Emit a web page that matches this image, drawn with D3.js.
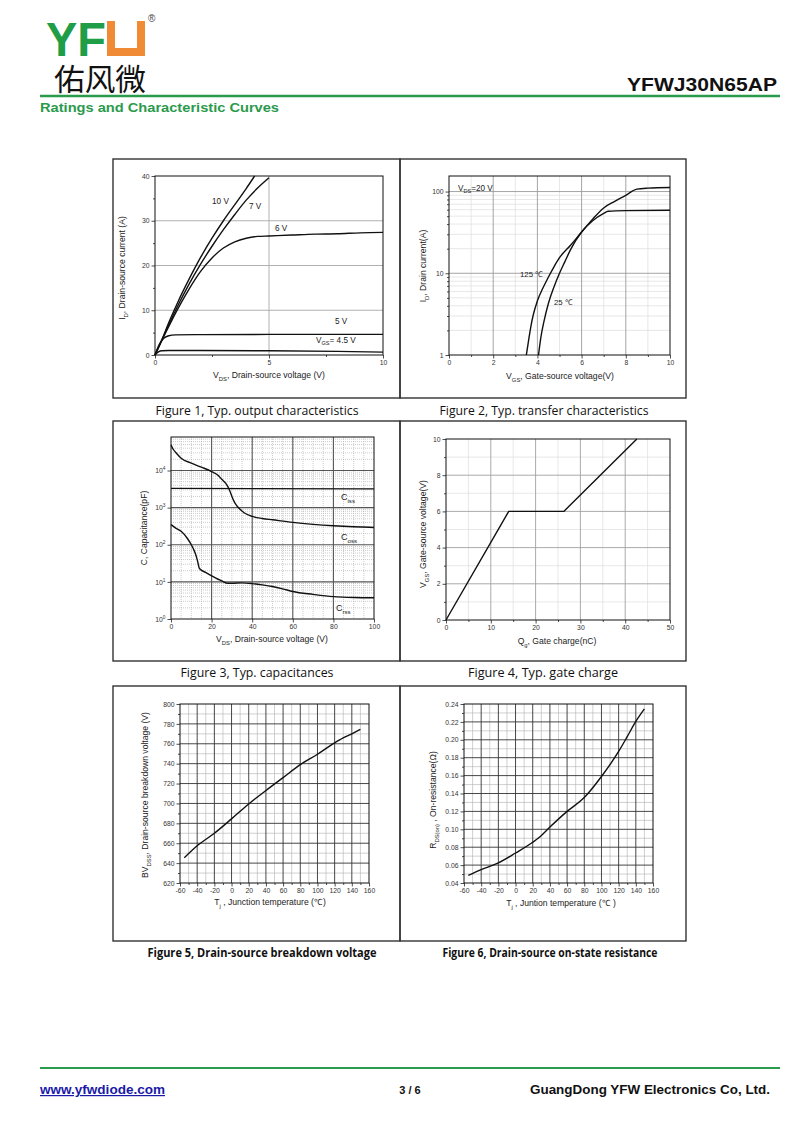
<!DOCTYPE html>
<html><head><meta charset="utf-8">
<script src="https://cdn.jsdelivr.net/npm/d3@7"></script>
<style>body{margin:0;background:#fff}svg{display:block}</style>
</head><body>
<svg id="page" width="800" height="1130"></svg>
<script>
// ---------- DATA ----------
// Figure 1: output characteristics  [V_DS (V), I_D (A)]
const fig1Vgs10 = [[0,0],[0.3,3.4],[0.6,7.2],[1,11.8],[1.5,17],[2,21.8],[2.5,26.1],[3,30],[3.5,33.6],[4,37.2],[4.37,40]];
const fig1Vgs7  = [[0,0],[0.5,5.6],[1,11],[1.5,15.9],[2,20.3],[2.5,24.3],[3,28],[3.5,31.4],[4,34.6],[4.5,37.3],[5,39.6]];
const fig1Vgs6  = [[0,0],[0.5,5.3],[1,10.3],[1.5,14.8],[2,18.7],[2.5,21.7],[3,23.9],[3.5,25.3],[4,26.1],[4.5,26.5],[5,26.6],[6,26.8],[7,27],[8,27.1],[9,27.3],[10,27.4]];
const fig1Vgs5  = [[0,0],[0.2,2.5],[0.4,3.8],[0.6,4.3],[0.9,4.5],[2,4.55],[5,4.6],[10,4.6]];
const fig1Vgs45 = [[0,0],[0.15,0.7],[0.3,0.95],[0.6,1.0],[2,1.0],[5,0.95],[8,0.8],[10,0.65]];
const fig1XTicks = [0,5,10];
const fig1YTicks = [0,10,20,30,40];

// Figure 2: transfer characteristics [V_GS (V), I_D (A)]
const fig2T125 = [[3.5,1],[3.6,1.5],[3.7,2.2],[3.8,3],[4,4.6],[4.25,6.6],[4.5,9],[4.75,12],[5,15.5],[5.5,22],[6,32],[6.5,46],[7,63],[7.5,76],[8,90],[8.5,107],[9,110],[10,112]];
const fig2T25  = [[4.05,1],[4.15,1.6],[4.3,2.6],[4.5,4.3],[4.75,6.8],[5,10],[5.25,14],[5.5,19.5],[6,32],[6.5,44],[7,54],[7.2,57.5],[8,58.5],[10,59]];
const fig2XTicks = [0,2,4,6,8,10];
const fig2YTicks = [1,10,100];

// Figure 3: capacitances [V_DS (V), C (pF)]
const fig3Ciss = [[0,3300],[100,3200]];
const fig3Coss = [[0,49000],[1,38000],[3,28000],[5,21500],[10,15800],[15,12300],[20,9400],[23,7600],[25,5800],[27,4500],[28,3700],[29,2800],[30,2000],[31,1500],[32,1200],[34,900],[36,730],[40,580],[45,510],[50,470],[60,400],[70,355],[80,325],[90,305],[100,293]];
const fig3Crss = [[0,350],[2,290],[5,230],[8,150],[10,100],[11,78],[12,58],[13,38],[14,23],[17,18],[20,14.6],[25,10.6],[28,9.2],[30,9.2],[35,9.4],[40,9.0],[45,8.3],[50,7.5],[55,6.5],[60,5.5],[70,4.6],[80,4.0],[90,3.8],[100,3.75]];
const fig3XTicks = [0,20,40,60,80,100];
const fig3YTicks = [1,10,100,1000,10000];

// Figure 4: gate charge [Q_g (nC), V_GS (V)]
const fig4Gate = [[0,0],[14,6],[26.3,6],[42.6,10]];
const fig4XTicks = [0,10,20,30,40,50];
const fig4YTicks = [0,2,4,6,8,10];

// Figure 5: breakdown voltage [T_j (°C), BV_DSS (V)]
const fig5BV = [[-55,645.5],[-40,657.5],[-20,670],[0,684.5],[20,699.5],[40,713],[60,726],[80,739],[100,749.5],[120,761],[130,766],[140,770],[150,774.5]];
const fig5XTicks = [-60,-40,-20,0,20,40,60,80,100,120,140,160];
const fig5YTicks = [620,640,660,680,700,720,740,760,780,800];

// Figure 6: on-resistance [T_j (°C), R_DS(on) (Ω)]
const fig6Rds = [[-55,0.0485],[-40,0.055],[-20,0.0625],[0,0.0735],[20,0.0855],[27,0.0905],[40,0.1025],[60,0.12],[80,0.1355],[100,0.159],[120,0.187],[130,0.2035],[140,0.2205],[150,0.2345]];
const fig6XTicks = [-60,-40,-20,0,20,40,60,80,100,120,140,160];
const fig6YTicks = [0.04,0.06,0.08,0.10,0.12,0.14,0.16,0.18,0.20,0.22,0.24];

const captions = ["Figure 1, Typ. output characteristics","Figure 2, Typ. transfer characteristics","Figure 3, Typ. capacitances","Figure 4, Typ. gate charge","Figure 5, Drain-source breakdown voltage","Figure 6, Drain-source on-state resistance"];

// ---------- DRAWING ----------
const svg = d3.select('#page');
const SANS = "'Liberation Sans', Arial, sans-serif";
const GREEN = '#2a9a4c';

function rich(parent, x, y, parts, o) {
  const t = parent.append('text').attr('x', x).attr('y', y)
    .attr('font-family', o.family || SANS).attr('font-size', o.size)
    .attr('text-anchor', o.anchor || 'start').attr('fill', o.fill || '#222');
  if (o.rotate) t.attr('transform', `rotate(-90,${x},${y})`);
  let shifted = false;
  parts.forEach(p => {
    const sub = Array.isArray(p);
    const s = t.append('tspan').text(sub ? p[0] : p);
    if (sub) { s.attr('font-size', o.size * 0.68).attr('dy', o.size * 0.3); shifted = true; }
    else if (shifted) { s.attr('dy', -o.size * 0.3); shifted = false; }
  });
  return t;
}

function vlines(g, vals, x, top, bottom, st) {
  g.append('g').selectAll('line').data(vals).join('line')
    .attr('x1', d => x(d)).attr('x2', d => x(d)).attr('y1', top).attr('y2', bottom)
    .attr('stroke', st.c).attr('stroke-width', st.w).attr('stroke-dasharray', st.dash || null);
}
function hlines(g, vals, y, left, right, st) {
  g.append('g').selectAll('line').data(vals).join('line')
    .attr('y1', d => y(d)).attr('y2', d => y(d)).attr('x1', left).attr('x2', right)
    .attr('stroke', st.c).attr('stroke-width', st.w).attr('stroke-dasharray', st.dash || null);
}

function drawChart(c) {
  const g = svg.append('g');
  const x = d3.scaleLinear().domain(c.xDomain).range([c.left, c.right]);
  const y = (c.log ? d3.scaleLog() : d3.scaleLinear()).domain(c.yDomain).range([c.bottom, c.top]);
  if (c.xMinorGrid) vlines(g, c.xMinorGrid, x, c.top, c.bottom, c.minorStyle);
  if (c.yMinorGrid) hlines(g, c.yMinorGrid, y, c.left, c.right, c.minorStyle);
  if (c.xGrid) vlines(g, c.xGrid, x, c.top, c.bottom, c.majorStyle);
  if (c.yGrid) hlines(g, c.yGrid, y, c.left, c.right, c.majorStyle);

  g.append('g').attr('transform', `translate(0,${c.bottom})`)
    .call(d3.axisBottom(x).tickValues(c.xTicks).tickSize(3.5).tickPadding(2).tickFormat(c.xFmt || (d => d)));
  const ya = g.append('g').attr('transform', `translate(${c.left},0)`)
    .call(d3.axisLeft(y).tickValues(c.yTicks).tickSize(3.5).tickPadding(2).tickFormat(c.yFmt || (d => d)));
  if (c.xMinorTicks) g.append('g').attr('transform', `translate(0,${c.bottom})`)
    .call(d3.axisBottom(x).tickValues(c.xMinorTicks).tickSize(2).tickFormat(''));
  if (c.yMinorTicks) g.append('g').attr('transform', `translate(${c.left},0)`)
    .call(d3.axisLeft(y).tickValues(c.yMinorTicks).tickSize(2).tickFormat(''));
  g.selectAll('.domain').remove();
  g.selectAll('.tick line').attr('stroke', '#222').attr('stroke-width', 0.8);
  g.selectAll('.tick text').attr('font-family', SANS).attr('font-size', 6.8).attr('fill', '#333');
  if (c.superY) {
    ya.selectAll('.tick text').each(function (d) {
      const t = d3.select(this);
      t.text('10');
      t.append('tspan').attr('dy', -3).attr('font-size', 4.8).text(Math.round(Math.log10(d)));
    });
  }

  g.append('rect').attr('x', c.left).attr('y', c.top).attr('width', c.right - c.left).attr('height', c.bottom - c.top)
    .attr('fill', 'none').attr('stroke', '#111').attr('stroke-width', 1);

  const line = d3.line().x(d => x(d[0])).y(d => y(d[1])).curve(c.linear ? d3.curveLinear : d3.curveMonotoneX);
  c.series.forEach(s => g.append('path').attr('d', line(s)).attr('fill', 'none')
    .attr('stroke', '#111').attr('stroke-width', 1.4).attr('stroke-linejoin', 'round'));

  rich(g, c.xLabel.x, c.xLabel.y, c.xLabel.parts, { size: 8.6, anchor: 'middle' });
  rich(g, c.yLabel.x, c.yLabel.y, c.yLabel.parts, { size: 8.6, anchor: 'middle', rotate: true });
  return { g, x, y };
}

// ---------- PAGE HEADER ----------
svg.append('text').attr('transform', 'translate(46,56) scale(1,1.1)').attr('font-family', SANS).attr('font-weight', 'bold')
  .attr('font-size', 44).attr('fill', '#1f9d47').attr('textLength', 60).attr('lengthAdjust', 'spacingAndGlyphs').text('YF');
svg.append('rect').attr('x', 107).attr('y', 21).attr('width', 38).attr('height', 35).attr('fill', '#f08a35');
svg.append('rect').attr('x', 115).attr('y', 21).attr('width', 22).attr('height', 27).attr('fill', '#fff');
svg.append('text').attr('x', 148).attr('y', 22).attr('font-family', SANS).attr('font-size', 10).attr('fill', '#444').text('®');
svg.append('text').attr('x', 54).attr('y', 90).attr('font-family', "'Noto Sans CJK SC', sans-serif")
  .attr('font-size', 30).attr('fill', '#111').attr('textLength', 92).attr('lengthAdjust', 'spacingAndGlyphs').text('佑风微');
svg.append('text').attr('x', 777).attr('y', 91).attr('text-anchor', 'end').attr('font-family', SANS).attr('font-weight', 'bold')
  .attr('font-size', 19).attr('fill', '#111').attr('textLength', 150).attr('lengthAdjust', 'spacingAndGlyphs').text('YFWJ30N65AP');
svg.append('line').attr('x1', 40).attr('x2', 780).attr('y1', 96).attr('y2', 96).attr('stroke', GREEN).attr('stroke-width', 2.5);
svg.append('text').attr('x', 40).attr('y', 112).attr('font-family', SANS).attr('font-weight', 'bold')
  .attr('font-size', 13).attr('fill', GREEN).attr('textLength', 239).attr('lengthAdjust', 'spacingAndGlyphs')
  .text('Ratings and Characteristic Curves');

// ---------- PANELS ----------
const panelRects = [[113,159,400,398],[400,159,686,398],[113,421,400,661],[400,421,686,661],[113,686,400,941],[400,686,686,941]];
panelRects.forEach(r => svg.append('rect').attr('x', r[0]).attr('y', r[1]).attr('width', r[2] - r[0]).attr('height', r[3] - r[1])
  .attr('fill', 'none').attr('stroke', '#333').attr('stroke-width', 1.4));
const capPos = [[257,415,203,false],[544,415,209,false],[257,677,153,false],[543,677,150,false],[262,957,229,true],[550,957,215,true]];
captions.forEach((t, i) => {
  const p = capPos[i];
  svg.append('text').attr('x', p[0]).attr('y', p[1]).attr('text-anchor', 'middle')
    .attr('font-family', "'Open Sans', 'Noto Sans', sans-serif").attr('font-size', 12.5)
    .attr('font-weight', p[3] ? 'bold' : 'normal').attr('fill', '#111')
    .attr('textLength', p[2]).attr('lengthAdjust', 'spacingAndGlyphs').text(t);
});

// ---------- FIGURE 1 ----------
const f1 = drawChart({
  left: 155, right: 383, top: 176, bottom: 355, xDomain: [0, 10], yDomain: [0, 40],
  xTicks: fig1XTicks, yTicks: fig1YTicks, xMinorTicks: [2.5, 7.5], yMinorTicks: [5, 15, 25, 35],
  xGrid: [5], yGrid: [10, 20, 30], majorStyle: { c: '#a8a8a8', w: 0.9 },
  series: [fig1Vgs10, fig1Vgs7, fig1Vgs6, fig1Vgs5, fig1Vgs45],
  xLabel: { x: 269, y: 378, parts: ['V', ['DS'], ', Drain-source voltage (V)'] },
  yLabel: { x: 125, y: 268, parts: ['I', ['D'], ', Drain-source current (A)'] }
});
rich(f1.g, 212, 204, ['10 V'], { size: 8.2 });
rich(f1.g, 249, 209, ['7 V'], { size: 8.2 });
rich(f1.g, 275, 231, ['6 V'], { size: 8.2 });
rich(f1.g, 335, 324, ['5 V'], { size: 8.2 });
rich(f1.g, 316, 343, ['V', ['GS'], '= 4.5 V'], { size: 8.2 });

// ---------- FIGURE 2 ----------
const f2minor = [2,3,4,5,6,7,8,9,20,30,40,50,60,70,80,90];
const f2 = drawChart({
  left: 449, right: 670, top: 176, bottom: 355, xDomain: [0, 10], yDomain: [1, 155], log: true,
  xTicks: fig2XTicks, yTicks: fig2YTicks, xMinorTicks: [1, 3, 5, 7, 9], yMinorTicks: f2minor,
  xGrid: [2, 4, 6, 8], yGrid: [10, 100], xMinorGrid: [1, 3, 5, 7, 9], yMinorGrid: f2minor,
  majorStyle: { c: '#9a9a9a', w: 0.9 }, minorStyle: { c: '#dcdcdc', w: 0.7 },
  series: [fig2T125, fig2T25],
  xLabel: { x: 560, y: 379, parts: ['V', ['GS'], ', Gate-source voltage(V)'] },
  yLabel: { x: 426, y: 266, parts: ['I', ['D'], ', Drain current(A)'] }
});
rich(f2.g, 458, 191, ['V', ['DS'], '=20 V'], { size: 8.2 });
rich(f2.g, 520, 277, ['125 ℃'], { size: 7.8 });
rich(f2.g, 554, 305, ['25 ℃'], { size: 7.8 });

// ---------- FIGURE 3 ----------
const f3minorY = [];
[1, 10, 100, 1000, 10000].forEach(b => [2,3,4,5,6,7,8,9].forEach(m => { if (b * m < 80000) f3minorY.push(b * m); }));
const f3 = drawChart({
  left: 171, right: 374, top: 437, bottom: 619, xDomain: [0, 100], yDomain: [1, 80000], log: true,
  xTicks: fig3XTicks, yTicks: fig3YTicks, superY: true,
  xGrid: [20, 40, 60, 80], yGrid: [10, 100, 1000, 10000],
  xMinorGrid: [5,10,15,25,30,35,45,50,55,65,70,75,85,90,95], yMinorGrid: f3minorY,
  majorStyle: { c: '#555', w: 1.1 }, minorStyle: { c: '#aaa', w: 0.6, dash: '1,1' },
  series: [fig3Ciss, fig3Coss, fig3Crss],
  xLabel: { x: 272, y: 642, parts: ['V', ['DS'], ', Drain-source voltage (V)'] },
  yLabel: { x: 147, y: 528, parts: ['C, Capacitance(pF)'] }
});
rich(f3.g, 341, 500, ['C', ['iss']], { size: 9 });
rich(f3.g, 341, 540, ['C', ['oss']], { size: 9 });
rich(f3.g, 336, 611, ['C', ['rss']], { size: 9 });

// ---------- FIGURE 4 ----------
drawChart({
  left: 446, right: 670, top: 439, bottom: 620, xDomain: [0, 50], yDomain: [0, 10], linear: true,
  xTicks: fig4XTicks, yTicks: fig4YTicks, xMinorTicks: [5,15,25,35,45], yMinorTicks: [1,3,5,7,9],
  xGrid: [10, 20, 30, 40], yGrid: [2, 4, 6, 8], xMinorGrid: [5,15,25,35,45], yMinorGrid: [1,3,5,7,9],
  majorStyle: { c: '#a0a0a0', w: 0.9 }, minorStyle: { c: '#dedede', w: 0.7 },
  series: [fig4Gate],
  xLabel: { x: 557, y: 644, parts: ['Q', ['g'], ', Gate charge(nC)'] },
  yLabel: { x: 426, y: 534, parts: ['V', ['GS'], ', Gate-source voltage(V)'] }
});

// ---------- FIGURE 5 ----------
const tempMinor = [-50,-30,-10,10,30,50,70,90,110,130,150];
drawChart({
  left: 180, right: 369, top: 704, bottom: 883, xDomain: [-60, 160], yDomain: [620, 800],
  xTicks: fig5XTicks, yTicks: fig5YTicks, xMinorTicks: tempMinor, yMinorTicks: [630,650,670,690,710,730,750,770,790],
  xGrid: fig5XTicks.slice(1, -1), yGrid: fig5YTicks.slice(1, -1),
  xMinorGrid: tempMinor, yMinorGrid: [630,650,670,690,710,730,750,770,790],
  majorStyle: { c: '#333', w: 0.9 }, minorStyle: { c: '#b0b0b0', w: 0.6 },
  series: [fig5BV],
  xLabel: { x: 270, y: 905, parts: ['T', ['j'], ' , Junction temperature (℃)'] },
  yLabel: { x: 148, y: 795, parts: ['BV', ['DSS'], ', Drain-source breakdown voltage (V)'] }
});

// ---------- FIGURE 6 ----------
const rMinor = [0.05,0.07,0.09,0.11,0.13,0.15,0.17,0.19,0.21,0.23];
drawChart({
  left: 464, right: 653, top: 704, bottom: 883, xDomain: [-60, 160], yDomain: [0.04, 0.24],
  xTicks: fig6XTicks, yTicks: fig6YTicks, yFmt: d3.format('.2f'), xMinorTicks: tempMinor, yMinorTicks: rMinor,
  xGrid: fig6XTicks.slice(1, -1), yGrid: fig6YTicks.slice(1, -1),
  xMinorGrid: tempMinor, yMinorGrid: rMinor,
  majorStyle: { c: '#333', w: 0.9 }, minorStyle: { c: '#b0b0b0', w: 0.6 },
  series: [fig6Rds],
  xLabel: { x: 561, y: 906, parts: ['T', ['j'], ' , Juntion temperature (℃ )'] },
  yLabel: { x: 436, y: 800, parts: ['R', ['DS(on)'], ' , On-resistance(Ω)'] }
});

// ---------- FOOTER ----------
svg.append('line').attr('x1', 40).attr('x2', 780).attr('y1', 1068).attr('y2', 1068).attr('stroke', GREEN).attr('stroke-width', 2.2);
svg.append('text').attr('x', 40).attr('y', 1094).attr('font-family', SANS).attr('font-weight', 'bold').attr('font-size', 12)
  .attr('fill', '#1a1aa8').attr('text-decoration', 'underline').attr('textLength', 125).attr('lengthAdjust', 'spacingAndGlyphs').text('www.yfwdiode.com');
svg.append('text').attr('x', 410).attr('y', 1094).attr('text-anchor', 'middle').attr('font-family', SANS).attr('font-weight', 'bold')
  .attr('font-size', 11).attr('fill', '#111').text('3 / 6');
svg.append('text').attr('x', 770).attr('y', 1094).attr('text-anchor', 'end').attr('font-family', SANS).attr('font-weight', 'bold')
  .attr('font-size', 12.5).attr('fill', '#111').attr('textLength', 240).attr('lengthAdjust', 'spacingAndGlyphs').text('GuangDong YFW Electronics Co, Ltd.');
</script>
</body></html>
